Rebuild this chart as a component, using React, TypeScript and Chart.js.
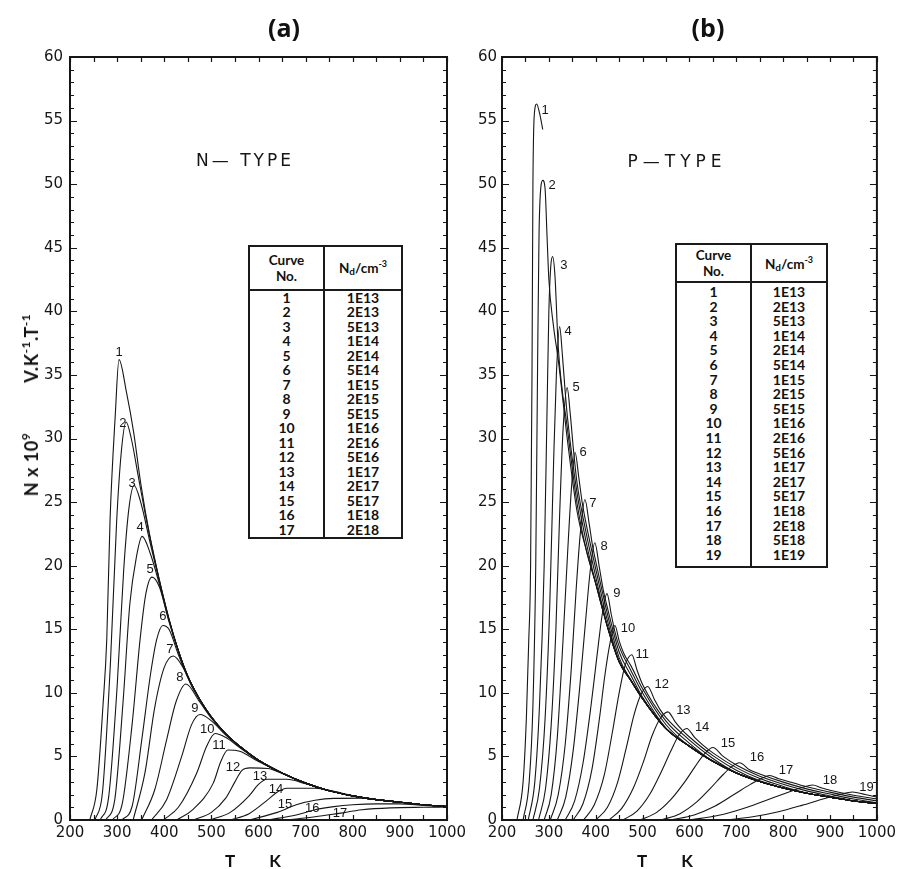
import React, { useEffect, useRef } from 'react';
import { Chart, registerables } from 'chart.js';
Chart.register(...registerables);

type P = [number, number];

const INK = '#161616';
const T_MIN = 200, T_MAX = 1000, T_LABEL_STEP = 100, T_MINOR_STEP = 50;
const V_MIN = 0, V_MAX = 60, V_LABEL_STEP = 5, V_MINOR_STEP = 1;

// ---------- Panel (a): N-type ----------
const A1: P[] = [[242,0],[257,2.4],[270,9],[278,14.2],[285,23.6],[296,31.8],[304,36.2],[320,33.6],[335,30.5],[350,26.5],[370,22.2],[390,18.8],[410,15.8],[430,13.3],[450,11.3],[475,9.5],[500,8.1],[530,6.8],[560,5.8],[600,4.7],[650,3.7],[700,2.9],[750,2.3],[800,1.9],[850,1.6],[900,1.4],[950,1.2],[1000,1.05]];
const A2: P[] = [[253,0],[269,2.2],[286,12.5],[299,23.5],[309,29],[319,31.3],[330,30.0],[345,27.0],[360,24.0],[370,22.2],[390,18.8],[410,15.8],[430,13.3],[450,11.3],[475,9.5],[500,8.1],[530,6.8],[560,5.8],[600,4.7],[650,3.7],[700,2.9],[750,2.3],[800,1.9],[850,1.6],[900,1.4],[950,1.2],[1000,1.05]];
const A3: P[] = [[264,0],[282,1.8],[300,10.5],[314,19.7],[325,24.5],[336,26.3],[350,25.0],[370,21.8],[390,18.7],[410,15.8],[430,13.3],[450,11.3],[475,9.5],[500,8.1],[530,6.8],[560,5.8],[600,4.7],[650,3.7],[700,2.9],[750,2.3],[800,1.9],[850,1.6],[900,1.4],[950,1.2],[1000,1.05]];
const A4: P[] = [[276,0],[295,1.6],[313,9.5],[327,17],[341,20.7],[353,22.3],[370,21.0],[390,18.5],[410,15.7],[430,13.3],[450,11.3],[475,9.5],[500,8.1],[530,6.8],[560,5.8],[600,4.7],[650,3.7],[700,2.9],[750,2.3],[800,1.9],[850,1.6],[900,1.4],[950,1.2],[1000,1.05]];
const A5: P[] = [[290,0],[311,1.3],[332,7.6],[349,14.3],[361,17.8],[374,19.1],[390,18.3],[410,15.6],[430,13.3],[450,11.3],[475,9.5],[500,8.1],[530,6.8],[560,5.8],[600,4.7],[650,3.7],[700,2.9],[750,2.3],[800,1.9],[850,1.6],[900,1.4],[950,1.2],[1000,1.05]];
const A6: P[] = [[310,0],[332,1.1],[353,6.5],[371,11.5],[384,14.2],[397,15.3],[410,15.0],[430,13.0],[450,11.2],[475,9.5],[500,8.1],[530,6.8],[560,5.8],[600,4.7],[650,3.7],[700,2.9],[750,2.3],[800,1.9],[850,1.6],[900,1.4],[950,1.2],[1000,1.05]];
const A7: P[] = [[334,0],[359,3.7],[380,8.9],[400,12.0],[419,12.9],[440,12.0],[460,10.4],[475,9.5],[500,8.1],[530,6.8],[560,5.8],[600,4.7],[650,3.7],[700,2.9],[750,2.3],[800,1.9],[850,1.6],[900,1.4],[950,1.2],[1000,1.05]];
const A8: P[] = [[352,0],[380,2.4],[405,6.3],[425,9.3],[446,10.7],[475,9.3],[500,8.0],[530,6.8],[560,5.8],[600,4.7],[650,3.7],[700,2.9],[750,2.3],[800,1.9],[850,1.6],[900,1.4],[950,1.2],[1000,1.05]];
const A9: P[] = [[373,0],[405,1.6],[437,5.0],[458,7.5],[476,8.3],[500,7.8],[530,6.7],[560,5.8],[600,4.7],[650,3.7],[700,2.9],[750,2.3],[800,1.9],[850,1.6],[900,1.4],[950,1.2],[1000,1.05]];
const A10: P[] = [[398,0],[430,1.0],[469,3.7],[490,5.8],[508,6.8],[530,6.5],[560,5.7],[600,4.7],[650,3.7],[700,2.9],[750,2.3],[800,1.9],[850,1.6],[900,1.4],[950,1.2],[1000,1.05]];
const A11: P[] = [[426,0],[460,0.8],[504,2.9],[520,4.6],[535,5.5],[560,5.4],[600,4.6],[650,3.7],[700,2.9],[750,2.3],[800,1.9],[850,1.6],[900,1.4],[950,1.2],[1000,1.05]];
const A12: P[] = [[462,0],[500,0.6],[530,1.7],[550,3.0],[565,3.9],[582,4.1],[620,4.05],[650,3.65],[700,2.9],[750,2.3],[800,1.9],[850,1.6],[900,1.4],[950,1.2],[1000,1.05]];
const A13: P[] = [[497,0],[540,0.6],[580,1.9],[600,2.8],[618,3.2],[660,3.2],[700,2.85],[750,2.3],[800,1.9],[850,1.6],[900,1.4],[950,1.2],[1000,1.05]];
const A14: P[] = [[540,0],[580,0.5],[620,1.6],[640,2.2],[660,2.5],[720,2.5],[760,2.25],[800,1.9],[850,1.6],[900,1.4],[950,1.2],[1000,1.05]];
const A15: P[] = [[580,0],[640,0.6],[680,1.2],[720,1.55],[760,1.7],[820,1.72],[850,1.6],[900,1.4],[950,1.2],[1000,1.05]];
const A16: P[] = [[620,0],[680,0.4],[720,0.8],[760,1.05],[800,1.2],[850,1.27],[900,1.27],[950,1.15],[1000,1.05]];
const A17: P[] = [[660,0],[720,0.25],[767,0.5],[820,0.8],[880,0.95],[950,1.0],[1000,1.02]];
const CURVES_A = [A1, A2, A3, A4, A5, A6, A7, A8, A9, A10, A11, A12, A13, A14, A15, A16, A17];
const LABEL_T_A = [304, 312, 332, 349, 370, 397, 412, 433, 465, 491, 516, 546, 603, 637, 656, 714, 773];
const LABEL_V_A = [36.8, 31.2, 26.5, 23.0, 19.7, 16.0, 13.4, 11.2, 8.8, 7.1, 5.9, 4.1, 3.4, 2.4, 1.2, 0.9, 0.55];
const DOPING_A = ['1E13','2E13','5E13','1E14','2E14','5E14','1E15','2E15','5E15','1E16','2E16','5E16','1E17','2E17','5E17','1E18','2E18'];

// ---------- Panel (b): P-type ----------
const B1: P[] = [[232,0],[245,3],[252,8],[257,14],[261,20],[264,35],[266,50],[269,55.5],[274,56.3],[280,55.6],[287,54.3]];
const B2: P[] = [[245,0],[258,3],[266,9],[272,20],[276,36],[279,46],[283,49.8],[287,50.3],[292,49.6],[296,46],[300,42.5],[310,38.8],[320,36.2],[340,29.75],[360,24.3],[380,21.2],[400,18.6],[425,15.2],[450,12.44],[475,10.98],[500,9.54],[550,7.18],[600,5.8],[650,4.62],[700,3.7],[750,3.03],[800,2.52],[850,2.11],[900,1.8],[950,1.5],[1000,1.3]];
const B3: P[] = [[256,0],[270,3],[280,9],[290,20],[296,32],[300,40],[304,43.5],[308,44.3],[313,42.8],[320,37.2],[340,30.65],[360,24.94],[380,21.2],[400,18.6],[425,15.2],[450,12.44],[475,10.98],[500,9.54],[550,7.18],[600,5.8],[650,4.62],[700,3.7],[750,3.03],[800,2.52],[850,2.11],[900,1.8],[950,1.5],[1000,1.3]];
const B4: P[] = [[266,0],[280,2.5],[292,8],[302,17],[310,28],[316,35],[323,38.8],[329,36.5],[335,33.6],[340,31.55],[360,25.74],[380,21.8],[400,18.6],[425,15.2],[450,12.44],[475,10.98],[500,9.54],[550,7.18],[600,5.8],[650,4.62],[700,3.7],[750,3.03],[800,2.52],[850,2.11],[900,1.8],[950,1.5],[1000,1.3]];
const B5: P[] = [[278,0],[293,2.5],[305,7.5],[315,15],[323,24],[330,30.5],[339,34],[346,31.8],[352,29.3],[360,26.54],[380,22.5],[400,19.14],[425,15.2],[450,12.44],[475,10.98],[500,9.54],[550,7.18],[600,5.8],[650,4.62],[700,3.7],[750,3.03],[800,2.52],[850,2.11],[900,1.8],[950,1.5],[1000,1.3]];
const B6: P[] = [[290,0],[305,2],[318,6.5],[330,14],[340,21],[348,26],[356,28.9],[364,26.9],[371,25.0],[380,23.2],[400,19.74],[425,15.67],[450,12.44],[475,10.98],[500,9.54],[550,7.18],[600,5.8],[650,4.62],[700,3.7],[750,3.03],[800,2.52],[850,2.11],[900,1.8],[950,1.5],[1000,1.3]];
const B7: P[] = [[303,0],[320,2],[335,6],[348,12],[358,18],[367,22.5],[377,25.2],[386,23.3],[393,21.6],[400,20.34],[425,16.18],[450,12.77],[475,11.0],[500,9.54],[550,7.18],[600,5.8],[650,4.62],[700,3.7],[750,3.03],[800,2.52],[850,2.11],[900,1.8],[950,1.5],[1000,1.3]];
const B8: P[] = [[318,0],[336,1.8],[352,5.5],[366,10.5],[378,15.5],[388,19.5],[398,21.8],[408,19.8],[416,18.1],[425,16.68],[450,13.21],[475,11.38],[500,9.64],[550,7.18],[600,5.8],[650,4.62],[700,3.7],[750,3.03],[800,2.52],[850,2.11],[900,1.8],[950,1.5],[1000,1.3]];
const B9: P[] = [[335,0],[355,1.5],[373,4.5],[390,9],[403,13],[414,16.2],[424,17.8],[433,16.2],[441,14.8],[450,13.65],[475,11.76],[500,9.98],[550,7.21],[600,5.8],[650,4.62],[700,3.7],[750,3.03],[800,2.52],[850,2.11],[900,1.8],[950,1.5],[1000,1.3]];
const B10: P[] = [[352,0],[373,1.3],[392,4],[408,8],[420,11.5],[431,14],[441,15.3],[450,14.09],[460,13.1],[475,12.14],[500,10.32],[550,7.49],[600,5.8],[650,4.62],[700,3.7],[750,3.03],[800,2.52],[850,2.11],[900,1.8],[950,1.5],[1000,1.3]];
const B11: P[] = [[374,0],[397,1.2],[418,3.5],[436,7],[450,10],[463,12.2],[477,13.0],[488,11.8],[500,10.66],[550,7.77],[600,6.03],[650,4.62],[700,3.7],[750,3.03],[800,2.52],[850,2.11],[900,1.8],[950,1.5],[1000,1.3]];
const B12: P[] = [[400,0],[425,1.0],[447,3.0],[466,5.8],[482,8.3],[497,9.9],[511,10.5],[525,9.5],[537,8.7],[550,8.05],[600,6.28],[650,4.84],[700,3.72],[750,3.03],[800,2.52],[850,2.11],[900,1.8],[950,1.5],[1000,1.3]];
const B13: P[] = [[428,0],[455,0.9],[480,2.5],[502,4.6],[520,6.6],[538,8.0],[554,8.5],[570,7.7],[585,7.05],[600,6.53],[650,5.06],[700,3.92],[750,3.08],[800,2.52],[850,2.11],[900,1.8],[950,1.5],[1000,1.3]];
const B14: P[] = [[458,0],[488,0.7],[515,2.0],[540,3.8],[560,5.4],[578,6.7],[594,7.2],[612,6.45],[630,5.85],[650,5.28],[700,4.12],[750,3.26],[800,2.64],[850,2.13],[900,1.8],[950,1.5],[1000,1.3]];
const B15: P[] = [[495,0],[530,0.6],[560,1.6],[590,3.0],[612,4.2],[632,5.2],[650,5.7],[672,5.0],[700,4.32],[750,3.44],[800,2.81],[850,2.29],[900,1.89],[950,1.5],[1000,1.3]];
const B16: P[] = [[540,0],[580,0.5],[615,1.4],[645,2.5],[670,3.5],[690,4.2],[707,4.5],[728,3.95],[750,3.62],[800,2.98],[850,2.45],[900,2.04],[950,1.65],[1000,1.36]];
const B17: P[] = [[560,0],[610,0.4],[655,1.1],[695,2.0],[730,2.8],[755,3.3],[771,3.5],[790,3.25],[800,3.15],[850,2.61],[900,2.19],[950,1.8],[1000,1.51]];
const B18: P[] = [[600,0],[660,0.35],[710,0.85],[760,1.5],[805,2.1],[840,2.55],[863,2.75],[880,2.55],[900,2.34],[950,1.95],[1000,1.66]];
const B19: P[] = [[680,0],[735,0.25],[790,0.65],[840,1.15],[885,1.65],[920,2.0],[948,2.2],[975,2.0],[1000,1.81]];
const CURVES_B = [B1, B2, B3, B4, B5, B6, B7, B8, B9, B10, B11, B12, B13, B14, B15, B16, B17, B18, B19];
const LABEL_T_B = [292, 307, 332, 341, 358, 373, 394, 418, 445, 469, 499, 541, 587, 627, 682, 744, 806, 900, 978];
const LABEL_V_B = [55.8, 49.9, 43.6, 38.4, 34.0, 28.9, 24.9, 21.5, 17.8, 15.1, 13.0, 10.7, 8.6, 7.3, 6.0, 4.9, 3.9, 3.1, 2.6];
const DOPING_B = ['1E13','2E13','5E13','1E14','2E14','5E14','1E15','2E15','5E15','1E16','2E16','5E16','1E17','2E17','5E17','1E18','2E18','5E18','1E19'];

function makeOverlay(labelT: number[], labelV: number[]) {
  return {
    id: 'frameTicksLabels',
    afterDatasetsDraw(chart: any) {
      const { ctx, chartArea: a, scales } = chart;
      const x = scales.x, y = scales.y;
      ctx.save();
      ctx.strokeStyle = INK;
      ctx.lineWidth = 1.2;
      ctx.beginPath();
      for (let t = T_MIN; t <= T_MAX; t += T_MINOR_STEP) {
        const px = Math.round(x.getPixelForValue(t)) + 0.5;
        ctx.moveTo(px, a.top); ctx.lineTo(px, a.top + 5);
        ctx.moveTo(px, a.bottom); ctx.lineTo(px, a.bottom - 5);
      }
      for (let v = V_MIN; v <= V_MAX; v += V_MINOR_STEP) {
        const py = Math.round(y.getPixelForValue(v)) + 0.5;
        const len = v % V_LABEL_STEP === 0 ? 7 : 4;
        ctx.moveTo(a.left, py); ctx.lineTo(a.left + len, py);
        ctx.moveTo(a.right, py); ctx.lineTo(a.right - len, py);
      }
      ctx.stroke();
      ctx.lineWidth = 2;
      ctx.strokeRect(a.left, a.top, a.right - a.left, a.bottom - a.top);
      ctx.fillStyle = INK;
      ctx.font = '13px "Liberation Sans"';
      ctx.textAlign = 'center';
      ctx.textBaseline = 'middle';
      labelT.forEach((t, i) => {
        ctx.fillText(String(i + 1), x.getPixelForValue(t), y.getPixelForValue(labelV[i]));
      });
      ctx.restore();
    },
  };
}

interface PanelProps {
  curves: P[][];
  labelT: number[];
  labelV: number[];
  left: number;
  width: number;
  yAxisWidth: number;
  padRight: number;
  yTickPad: number;
}

function Panel({ curves, labelT, labelV, left, width, yAxisWidth, padRight, yTickPad }: PanelProps) {
  const ref = useRef<HTMLCanvasElement>(null);
  useEffect(() => {
    const chart = new Chart(ref.current as HTMLCanvasElement, {
      type: 'line',
      data: {
        datasets: curves.map((c, i) => ({
          label: String(i + 1),
          data: c.map(([t, v]) => ({ x: t, y: v })),
          borderColor: INK,
          borderWidth: 1.1,
          pointRadius: 0,
          fill: false,
          cubicInterpolationMode: 'monotone' as const,
        })),
      },
      options: {
        responsive: false,
        animation: false,
        events: [],
        layout: { padding: { left: 0, right: padRight, top: 57, bottom: 0 } },
        plugins: { legend: { display: false }, tooltip: { enabled: false }, title: { display: false } },
        scales: {
          x: {
            type: 'linear',
            min: T_MIN,
            max: T_MAX,
            grid: { display: false, drawTicks: false },
            border: { display: false },
            ticks: {
              stepSize: T_LABEL_STEP,
              autoSkip: false,
              maxRotation: 0,
              padding: 4,
              color: INK,
              font: { family: 'DejaVu Sans', size: 15 },
              callback: (v: any) => String(v),
            },
            afterFit: (s: any) => { s.height = 49; },
          },
          y: {
            type: 'linear',
            min: V_MIN,
            max: V_MAX,
            grid: { display: false, drawTicks: false },
            border: { display: false },
            ticks: {
              stepSize: V_LABEL_STEP,
              autoSkip: false,
              padding: yTickPad,
              color: INK,
              font: { family: 'DejaVu Sans', size: 15 },
              callback: (v: any) => String(v),
            },
            afterFit: (s: any) => { s.width = yAxisWidth; },
          },
        },
      },
      plugins: [makeOverlay(labelT, labelV)],
    } as any);
    return () => chart.destroy();
  }, []);
  return <canvas ref={ref} width={width} height={869} style={{ position: 'absolute', left, top: 0 }} />;
}

interface TableProps {
  left: number; top: number; width: number; height: number;
  headerH: number; rowH: number; padTop: number; values: string[];
}

function DopingTable({ left, top, width, height, headerH, rowH, padTop, values }: TableProps) {
  const cellFont = 'bold 14px Lato';
  return (
    <div style={{ position: 'absolute', left, top, width, height, border: '2px solid #1a1a1a', boxSizing: 'border-box', background: '#fff', color: '#111', font: cellFont, display: 'flex', flexDirection: 'column' }}>
      <div style={{ display: 'flex', height: headerH, borderBottom: '2px solid #1a1a1a' }}>
        <div style={{ width: 73, borderRight: '2px solid #1a1a1a', display: 'flex', flexDirection: 'column', alignItems: 'center', justifyContent: 'center', lineHeight: '16px', fontSize: 13.5 }}>
          <div>Curve</div><div>No.</div>
        </div>
        <div style={{ flex: 1, display: 'flex', alignItems: 'center', justifyContent: 'center', fontSize: 13.5 }}>
          <span>N<sub style={{ fontSize: 10, verticalAlign: '-2px' }}>d</sub>/cm<sup style={{ fontSize: 9, verticalAlign: '6px' }}>-3</sup></span>
        </div>
      </div>
      <div style={{ display: 'flex', flex: 1 }}>
        <div style={{ width: 73, borderRight: '2px solid #1a1a1a', paddingTop: padTop }}>
          {values.map((_, i) => (
            <div key={i} style={{ height: rowH, lineHeight: rowH + 'px', textAlign: 'center' }}>{i + 1}</div>
          ))}
        </div>
        <div style={{ flex: 1, paddingTop: padTop }}>
          {values.map((v, i) => (
            <div key={i} style={{ height: rowH, lineHeight: rowH + 'px', textAlign: 'center' }}>{v}</div>
          ))}
        </div>
      </div>
    </div>
  );
}

const centered = (x: number, y: number): React.CSSProperties => ({
  position: 'absolute', left: x, top: y, transform: 'translate(-50%, -50%)', whiteSpace: 'nowrap',
});

export default function App() {
  const supStyle: React.CSSProperties = { fontSize: 12, verticalAlign: '8px' };
  return (
    <div style={{ position: 'absolute', left: 0, top: 0, width: 900, height: 869, background: '#fff', overflow: 'hidden' }}>
      <Panel curves={CURVES_A} labelT={LABEL_T_A} labelV={LABEL_V_A} left={0} width={480} yAxisWidth={70} padRight={33} yTickPad={7} />
      <Panel curves={CURVES_B} labelT={LABEL_T_B} labelV={LABEL_V_B} left={460} width={440} yAxisWidth={42} padRight={23} yTickPad={5} />

      <div style={{ ...centered(284, 27), font: 'bold 25px "Open Sans"', color: '#111' }}>(a)</div>
      <div style={{ ...centered(708, 27), font: 'bold 25px "Open Sans"', color: '#111' }}>(b)</div>

      <div style={{ ...centered(245, 160), font: '17px "DejaVu Sans"', letterSpacing: 3, color: INK }}>N— TYPE</div>
      <div style={{ ...centered(677, 161), font: '17px "DejaVu Sans"', letterSpacing: 5, color: INK }}>P—TYPE</div>

      <div style={{ ...centered(30, 405), transform: 'translate(-50%, -50%) rotate(-90deg)', font: 'bold 18px Lato', letterSpacing: 0.5, color: '#111' }}>
        N x 10<sup style={supStyle}>9</sup>
        <span style={{ display: 'inline-block', width: 50 }} />
        V.K<sup style={supStyle}>-1</sup>.T<sup style={supStyle}>-1</sup>
      </div>

      <div style={{ ...centered(230, 860), font: 'bold 17px Lato', color: '#111' }}>T</div>
      <div style={{ ...centered(275, 860), font: 'bold 17px Lato', color: '#111' }}>K</div>
      <div style={{ ...centered(642, 860), font: 'bold 17px Lato', color: '#111' }}>T</div>
      <div style={{ ...centered(687, 860), font: 'bold 17px Lato', color: '#111' }}>K</div>

      <DopingTable left={248} top={245} width={155} height={294} headerH={42} rowH={14.5} padTop={0} values={DOPING_A} />
      <DopingTable left={675} top={243} width={153} height={325} headerH={36} rowH={14.6} padTop={2} values={DOPING_B} />
    </div>
  );
}
